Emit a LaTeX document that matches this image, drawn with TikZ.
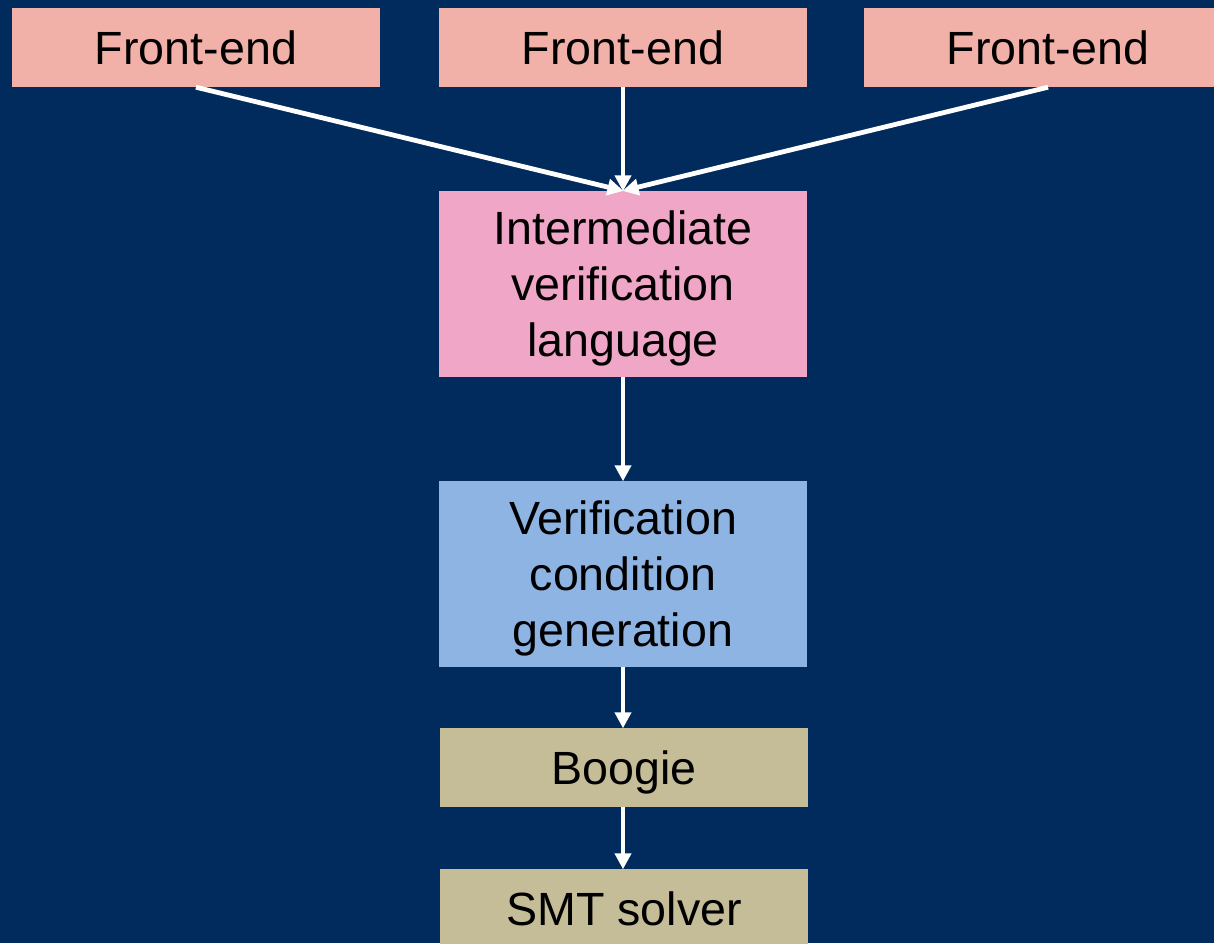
\documentclass[tikz,border=0pt]{standalone}
\usepackage{fontspec}
\setmainfont{Liberation Sans}
\usetikzlibrary{arrows.meta}

\definecolor{navybg}{RGB}{0,43,92}
\definecolor{frontfill}{RGB}{241,176,168}
\definecolor{ivlfill}{RGB}{240,166,198}
\definecolor{vcfill}{RGB}{142,180,227}
\definecolor{toolfill}{RGB}{196,189,151}

\tikzset{
  box/.style={rectangle, inner sep=0pt, minimum width=368pt, align=center,
    font=\fontsize{46.6}{56}\selectfont, text=black, text depth=0pt},
  shortbox/.style={box, minimum height=79pt},
  tallbox/.style={box, minimum height=186pt},
  flow/.style={draw=white, line width=4.8pt,
    -{Triangle[length=16pt,width=16pt]}, shorten >=-0.5pt}
}

\begin{document}
\begin{tikzpicture}[x=1pt,y=-1pt]
  \useasboundingbox (0,0) rectangle (1214,943);
  \clip (0,0) rectangle (1214,943);
  \fill[navybg] (0,0) rectangle (1214,943);

  % front-ends
  \node[shortbox, fill=frontfill] (fe1) at (196,47.5) {Front-end};
  \node[shortbox, fill=frontfill] (fe2) at (623,47.5) {Front-end};
  \node[shortbox, fill=frontfill] (fe3) at (1048,47.5) {Front-end};

  % pipeline
  \node[tallbox, fill=ivlfill] (ivl) at (623,284)
    {Intermediate\\verification\\language};
  \node[tallbox, fill=vcfill] (vc) at (623,574)
    {Verification\\condition\\generation};
  \node[shortbox, fill=toolfill] (boogie) at (624,767.5) {Boogie};
  \node[shortbox, fill=toolfill] (smt) at (624,908.5) {SMT solver};

  % connectors
  \draw[flow] (fe1.south) -- (ivl.north);
  \draw[flow] (fe2.south) -- (ivl.north);
  \draw[flow] (fe3.south) -- (ivl.north);
  \draw[flow] (ivl.south) -- (vc.north);
  \draw[flow] (vc.south) -- (boogie.north -| vc.south);
  \draw[flow] (boogie.south -| vc.south) -- (smt.north -| vc.south);
\end{tikzpicture}
\end{document}
